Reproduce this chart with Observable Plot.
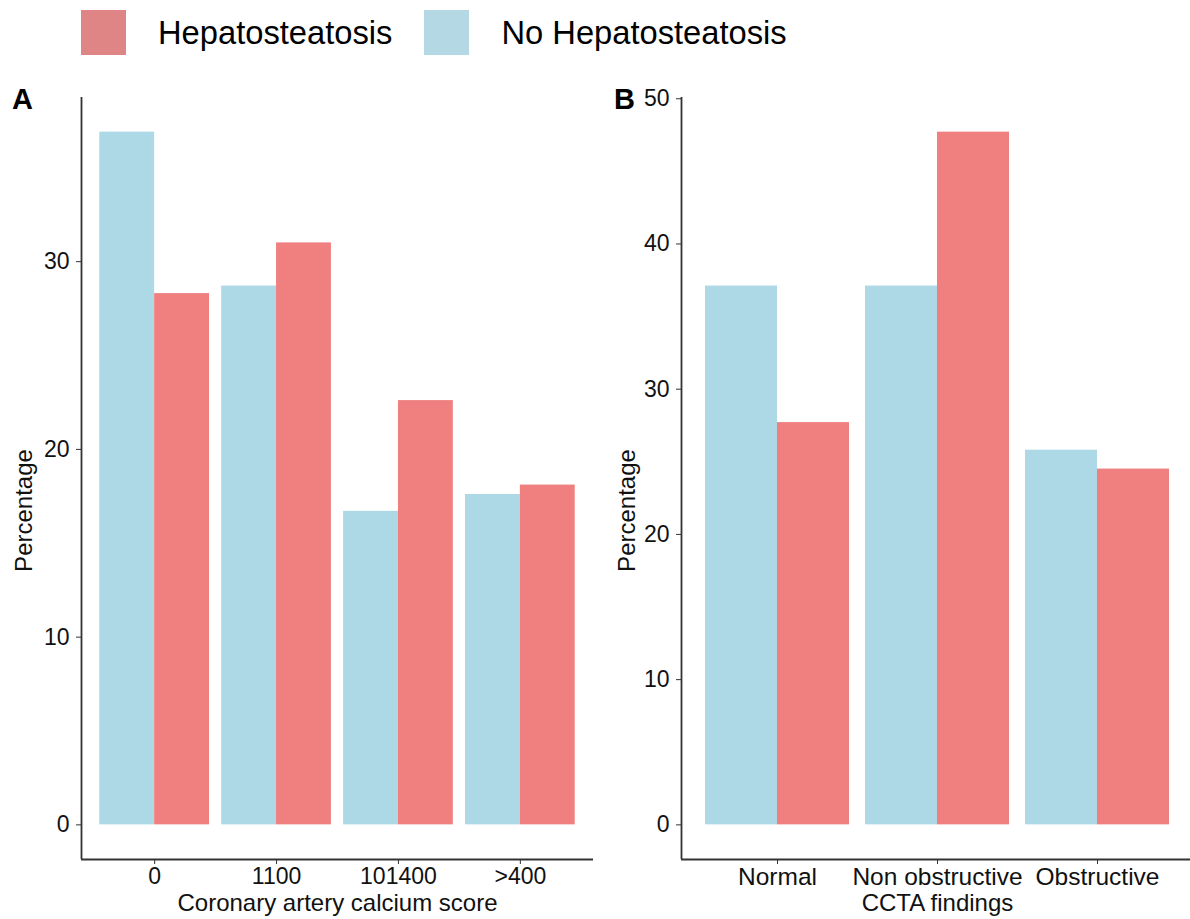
<!DOCTYPE html>
<html>
<head>
<meta charset="utf-8">
<script src="https://cdn.jsdelivr.net/npm/d3@7"></script>
<script src="https://cdn.jsdelivr.net/npm/@observablehq/plot@0.6"></script>
<style>
  html, body { margin: 0; padding: 0; background: #fff; }
  body { width: 1190px; height: 919px; overflow: hidden; position: relative;
         font-family: "Liberation Sans", Arial, Helvetica, sans-serif; color: #000; }
  .abs { position: absolute; }
  #legend { position: absolute; left: 81px; top: 10px; height: 45px; display: flex; align-items: center; }
  #legend .sw { width: 45px; height: 45px; }
  #legend .lab { font-size: 32.7px; margin-left: 32px; margin-right: 32px; line-height: 45px; white-space: nowrap; }
  .tag { font-weight: bold; font-size: 29px; line-height: 1; }
</style>
</head>
<body>
<div id="legend"></div>
<div id="panelA" class="abs" style="left:0px; top:60px; width:600px; height:859px;"></div>
<div id="panelB" class="abs" style="left:600px; top:60px; width:600px; height:859px;"></div>
<div class="abs tag" style="left:12px; top:85px;">A</div>
<div class="abs tag" style="left:614px; top:85px;">B</div>
<script>
// ---------- data ----------
const seriesNames = ["No Hepatosteatosis", "Hepatosteatosis"];
const barColors = ["#ADD8E6", "#F08080"];
const legendNames = ["Hepatosteatosis", "No Hepatosteatosis"];
const legendColors = ["#E08585", "#B5D9E4"];

const cacCategories = ["0", "1100", "101400", ">400"];
const cacNoHep = [36.9, 28.7, 16.7, 17.6];
const cacHep = [28.3, 31.0, 22.6, 18.1];
const cacTicks = [0, 10, 20, 30];

const cctaCategories = ["Normal", "Non obstructive", "Obstructive"];
const cctaNoHep = [37.1, 37.1, 25.8];
const cctaHep = [27.7, 47.7, 24.5];
const cctaTicks = [0, 10, 20, 30, 40, 50];

const yTitle = "Percentage";
const xTitleA = "Coronary artery calcium score";
const xTitleB = "CCTA findings";

// ---------- legend ----------
const legend = document.getElementById("legend");
legendNames.forEach((name, i) => {
  const sw = document.createElement("div");
  sw.className = "sw";
  sw.style.background = legendColors[i];
  const lab = document.createElement("div");
  lab.className = "lab";
  lab.textContent = name;
  legend.appendChild(sw);
  legend.appendChild(lab);
});

// ---------- panels ----------
function panel(cats, noHep, hep, ticks, xTitle, yLabelOffset, xTickFont) {
  const dodge = 0.45;
  const rows = cats.flatMap((c, i) => [
    {i, group: seriesNames[0], x1: i - dodge, x2: i, value: noHep[i]},
    {i, group: seriesNames[1], x1: i, x2: i + dodge, value: hep[i]}
  ]);
  const ymax = d3.max(rows, d => d.value);
  const yDomain = [-0.05 * ymax, 1.05 * ymax];
  const xDomain = [-0.6, cats.length - 1 + 0.6];
  return Plot.plot({
    width: 600,
    height: 859,
    marginLeft: 81,
    marginRight: 7,
    marginTop: 37,
    marginBottom: 60,
    style: {fontFamily: '"Liberation Sans", Arial, Helvetica, sans-serif', fontSize: "23px", color: "#111", background: "transparent", overflow: "visible"},
    x: {domain: xDomain},
    y: {domain: yDomain},
    color: {domain: seriesNames, range: barColors},
    marks: [
      Plot.rectY(rows, {x1: "x1", x2: "x2", y1: 0, y2: "value", fill: "group"}),
      Plot.ruleX([xDomain[0]], {stroke: "#333", strokeWidth: 1.8}),
      Plot.ruleY([yDomain[0]], {stroke: "#333", strokeWidth: 1.8}),
      Plot.axisX(d3.range(cats.length), {
        tickFormat: i => cats[i], tickSize: 5, tickPadding: 3, stroke: "#333",
        fontSize: xTickFont, label: null
      }),
      Plot.axisX({label: xTitle, labelAnchor: "center", labelOffset: 51, labelArrow: "none",
        ticks: [], tickSize: 0, fontSize: 24}),
      Plot.axisY(ticks, {
        tickSize: 5, tickPadding: 7, stroke: "#333", fontSize: 23, label: null
      }),
      Plot.text([yTitle], {
        text: d => d, frameAnchor: "left", rotate: -90, lineAnchor: "top",
        textAnchor: "middle", dx: -yLabelOffset, dy: 32, fontSize: 24, fill: "#111"
      })
    ]
  });
}

const a = panel(cacCategories, cacNoHep, cacHep, cacTicks, xTitleA, 67, 23);
const b = panel(cctaCategories, cctaNoHep, cctaHep, cctaTicks, xTitleB, 64, 24.5);
document.getElementById("panelA").appendChild(a);
document.getElementById("panelB").appendChild(b);

// strip any automatic direction arrows from the axis titles
for (const svg of [a, b]) {
  svg.querySelectorAll("text").forEach(t => {
    const s = t.textContent;
    const clean = s.replace(/\s*[\u2191\u2193\u2190\u2192]\s*/g, "").trim();
    if (clean !== s && (clean === yTitle || clean === xTitleA || clean === xTitleB)) t.textContent = clean;
  });
}
</script>
</body>
</html>
